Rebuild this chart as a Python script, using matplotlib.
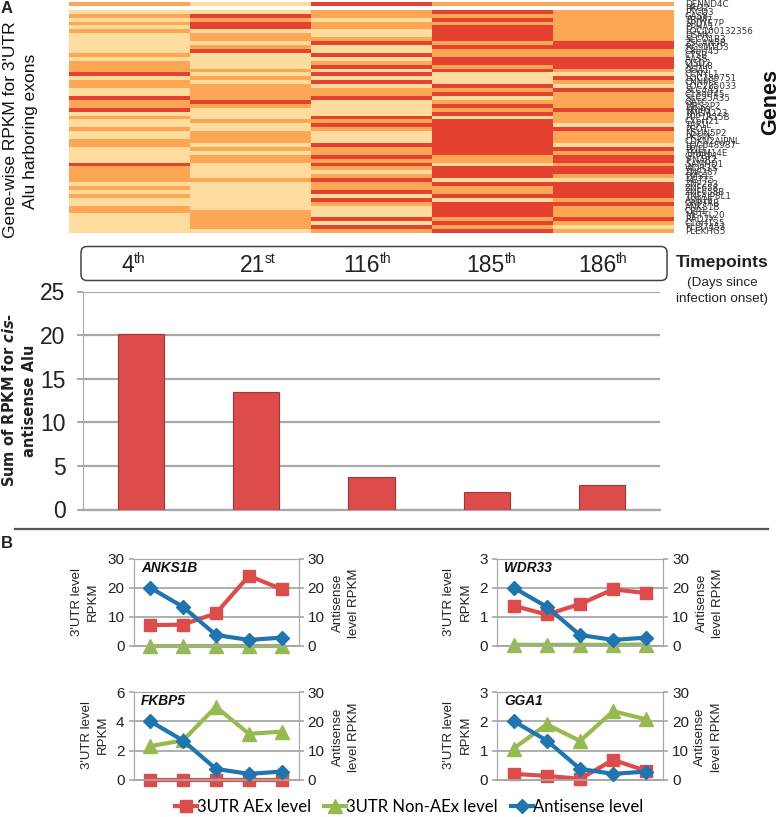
import matplotlib
matplotlib.use("Agg")
import matplotlib.pyplot as plt
import numpy as np
from matplotlib.colors import ListedColormap
from matplotlib.patches import FancyBboxPatch

W, H = 780, 817

# Heatmap levels per timepoint: 0 low, 1 mid, 2 high, - empty row
col_4th = "1-0101010000010" "111201100211201" "0010011000021111" "0101001100000"
col_21st = "0-0212201101200" "001010111121000" "1001110101100001" "0000000111110"
col_116th = "2-1101100120020" "120202011200002" "1210002112121012" "1120210002021"
col_185th = "1-2121222212112" "212000212012120" "2222222221102220" "2112022221212"
col_186th = "1-1111111122112" "221021021111211" "1021110212212210" "2222121112101"

genes = ["DENND4C", "PRG2", "PTCD3", "GAS8", "TRIM7", "SPDYE7P", "EPHA1", "LOC100132356",
         "DSMK", "SLCO1B3", "ZSCAN5B", "RG9MTD3", "C8orf45", "CTSB", "AASS", "CISD2",
         "KLHL8", "GGA1", "CCNYL1", "LOC389751", "CNNM3", "LOC285033", "SLC4A5", "C18orf45",
         "SLC25A35", "GATC", "MRS2P2", "NRIP3", "TMEM223", "PPP1R15B", "CXorf21", "TAF1L",
         "PEO1", "NSUN5P2", "PKSPK", "CDKN2AIPNL", "LOC648987", "PPID", "TMEM14E", "GTPBP1",
         "IFNAR2", "SAMHD1", "WDR33", "ZNF287", "PMS1", "METT5", "ZNF253", "ZNF658",
         "ZNF658B", "TNFAIP8L1", "ASB16", "GNPTAB", "ANKS1B", "CEP1", "METTL20", "RAD7X",
         "C1orf135", "FLJ37453", "PLEKHG5"]

timepoints = ["4", "21", "116", "185", "186"]
suffixes = ["th", "st", "th", "th", "th"]
antisense_sum = [20.1, 13.45, 3.7, 2.0, 2.8]

anks1b_aex = [7.1, 7.3, 11.2, 24.2, 19.5]
anks1b_non = [0, 0, 0, 0, 0]
wdr33_aex = [1.38, 1.08, 1.44, 1.95, 1.82]
wdr33_non = [0.03, 0.03, 0.03, 0.03, 0.04]
fkbp5_aex = [0, 0, 0, 0, 0]
fkbp5_non = [2.3, 2.7, 5.0, 3.15, 3.3]
gga1_aex = [0.2, 0.13, 0.03, 0.68, 0.3]
gga1_non = [1.07, 1.9, 1.33, 2.35, 2.07]

SANS = ["Liberation Sans", "DejaVu Sans"]
GRID = "#a8a8a8"
RED = "#dd4b4b"
GREEN = "#95bb50"
BLUE = "#1f75b0"
TEXT = "#222222"

plt.rcParams["font.family"] = SANS
plt.rcParams["mathtext.fontset"] = "dejavusans"


def ax_px(fig, left, top, right, bottom):
    return fig.add_axes([left / W, 1 - bottom / H, (right - left) / W, (bottom - top) / H])


def heatmap(fig):
    ax = ax_px(fig, 69, 2.4, 674, 233.3)
    columns = [col_4th, col_21st, col_116th, col_185th, col_186th]
    grid = np.array([[np.nan if c == "-" else int(c) for c in col] for col in columns]).T
    cmap = ListedColormap(["#fedc9d", "#fda654", "#e44131"])
    cmap.set_bad("white")
    ax.imshow(grid, cmap=cmap, vmin=0, vmax=2, aspect="auto", interpolation="nearest")
    ax.axis("off")
    for i, gene in enumerate(genes):
        ax.text(1.018, 1 - (i + 0.5) / len(genes), gene, transform=ax.transAxes,
                fontsize=6.3, va="center", ha="left", color="#333333", family="DejaVu Sans")


def bars(fig):
    ax = ax_px(fig, 83, 291.5, 660, 509.5)
    x = np.arange(len(antisense_sum)) + 0.5
    ax.bar(x, antisense_sum, width=0.4, color=RED, edgecolor="#a93636", linewidth=0.8, zorder=3)
    ax.set_xlim(0, 5)
    ax.set_ylim(0, 25)
    ax.set_yticks([0, 5, 10, 15, 20, 25])
    ax.set_xticks([])
    ax.grid(axis="y", color=GRID, linewidth=1.6, zorder=0)
    for side in ["top", "right"]:
        ax.spines[side].set_visible(False)
    ax.spines["left"].set_color(GRID)
    ax.spines["bottom"].set_color(GRID)
    ax.spines["bottom"].set_linewidth(1.6)
    ax.tick_params(axis="y", length=4.5, color=GRID, width=1.4, pad=8, labelcolor=TEXT, labelsize=16.5)


def small_panel(fig, box, aex, non, ymax, step, title):
    ax = ax_px(fig, *box)
    x = np.arange(5) + 0.5
    ax.plot(x, aex, color=RED, lw=3, marker="s", ms=9, clip_on=False, zorder=3, label="3UTR AEx level")
    ax.plot(x, non, color=GREEN, lw=3, marker="^", ms=9.5, clip_on=False, zorder=4, label="3UTR Non-AEx level")
    ax.set_xlim(0, 5)
    ax.set_ylim(0, ymax)
    ax.set_yticks(np.arange(0, ymax + step, step))
    ax.set_xticks([])
    ax.grid(axis="y", color=GRID, linewidth=1.3, zorder=0)

    ax2 = ax.twinx()
    ax2.plot(x, antisense_sum, color=BLUE, lw=3, marker="D", ms=7.5, clip_on=False, zorder=5,
             label="Antisense level")
    ax2.set_ylim(0, 30)
    ax2.set_yticks([0, 10, 20, 30])

    for a in [ax, ax2]:
        for spine in a.spines.values():
            spine.set_color(GRID)
        a.spines["bottom"].set_linewidth(1.3)
        a.tick_params(axis="y", length=3.5, color=GRID, width=1.2, labelsize=11, pad=3, labelcolor=TEXT)
    ax.text(0.045, 0.9, title, transform=ax.transAxes, fontsize=9.8, fontweight="bold",
            fontstyle="italic", va="center", color="#111111")
    return ax, ax2


fig = plt.figure(figsize=(W / 100, H / 100), dpi=100)
heatmap(fig)
bars(fig)

left_x, right_x = 133.5, 298.5
left_x2, right_x2 = 497, 663
top1, bot1 = 559, 645.7
top2, bot2 = 692.3, 779.7
ax1, ax1b = small_panel(fig, (left_x, top1, right_x, bot1), anks1b_aex, anks1b_non, 30, 10, "ANKS1B")
small_panel(fig, (left_x2, top1, right_x2, bot1), wdr33_aex, wdr33_non, 3, 1, "WDR33")
small_panel(fig, (left_x, top2, right_x, bot2), fkbp5_aex, fkbp5_non, 6, 2, "FKBP5")
small_panel(fig, (left_x2, top2, right_x2, bot2), gga1_aex, gga1_non, 3, 1, "GGA1")

handles = ax1.get_lines() + ax1b.get_lines()
fig.legend(handles=handles, labels=[h.get_label() for h in handles], ncol=3, frameon=False,
           loc="center", bbox_to_anchor=(409 / W, 1 - 807 / H), handlelength=1.3,
           handletextpad=0.0, columnspacing=0.8, borderpad=0,
           prop={"family": "Lato", "size": 12})

# Overlay in pixel coordinates for the free text
ov = fig.add_axes([0, 0, 1, 1], zorder=10)
ov.set_xlim(0, W)
ov.set_ylim(H, 0)
ov.axis("off")
ov.patch.set_alpha(0)

ov.text(7, 8, "A", fontsize=12, fontweight="bold", ha="center", va="center", color=TEXT)
ov.text(7, 544, "B", fontsize=12, fontweight="bold", ha="center", va="center", color=TEXT)
ov.text(11, 129.5, "Gene-wise RPKM for 3'UTR", rotation=90, fontsize=12.5, ha="center", va="center", color="#111111")
ov.text(31, 131, "Alu harboring exons", rotation=90, fontsize=12.5, ha="center", va="center", color="#111111")
ov.text(771, 102, "Genes", rotation=90, fontsize=15.5, fontweight="bold", ha="center", va="center", color="#111111")

ov.add_patch(FancyBboxPatch((85, 250.5), 578, 26, boxstyle="round,pad=4,rounding_size=6",
                            fc="white", ec="#444444", lw=1.1, mutation_aspect=1))
ends = [134, 265, 380, 505, 616]
for num, sup, xe in zip(timepoints, suffixes, ends):
    ov.text(xe, 265, num, fontsize=16.5, ha="right", va="center", color=TEXT)
    ov.text(xe, 259, sup, fontsize=10, ha="left", va="center", color=TEXT)

ov.text(722, 263, "Timepoints", fontsize=12.5, fontweight="bold", ha="center", va="center", color=TEXT)
ov.text(722, 283, "(Days since", fontsize=9.7, ha="center", va="center", color=TEXT)
ov.text(722, 299, "infection onset)", fontsize=9.7, ha="center", va="center", color=TEXT)

ov.text(9, 400, "Sum of RPKM for $\\mathbfit{cis}$-", rotation=90, family="DejaVu Sans", fontsize=10.5,
        fontweight="bold", ha="center", va="center", color=TEXT)
ov.text(29, 401, "antisense Alu", rotation=90, family="DejaVu Sans", fontsize=10.5,
        fontweight="bold", ha="center", va="center", color=TEXT)

ov.plot([15, 768], [529, 529], color="#555555", lw=1.6)

for xa, xb in [(77, 93), (449, 466)]:
    ov.text(xa, 602, "3'UTR level", rotation=90, fontsize=9.5, ha="center", va="center", color=TEXT)
    ov.text(xb, 602, "RPKM", rotation=90, fontsize=9.5, ha="center", va="center", color=TEXT)
for xa, xb in [(87, 103), (449, 466)]:
    ov.text(xa, 735, "3'UTR level", rotation=90, fontsize=9.5, ha="center", va="center", color=TEXT)
    ov.text(xb, 735, "RPKM", rotation=90, fontsize=9.5, ha="center", va="center", color=TEXT)
for xa, xb, yc in [(338, 354, 603), (702, 718, 603), (338, 354, 737), (700, 717, 737)]:
    ov.text(xa, yc, "Antisense", rotation=90, fontsize=9.5, ha="center", va="center", color=TEXT)
    ov.text(xb, yc, "level RPKM", rotation=90, fontsize=9.5, ha="center", va="center", color=TEXT)

fig.savefig("out.png", dpi=100)
